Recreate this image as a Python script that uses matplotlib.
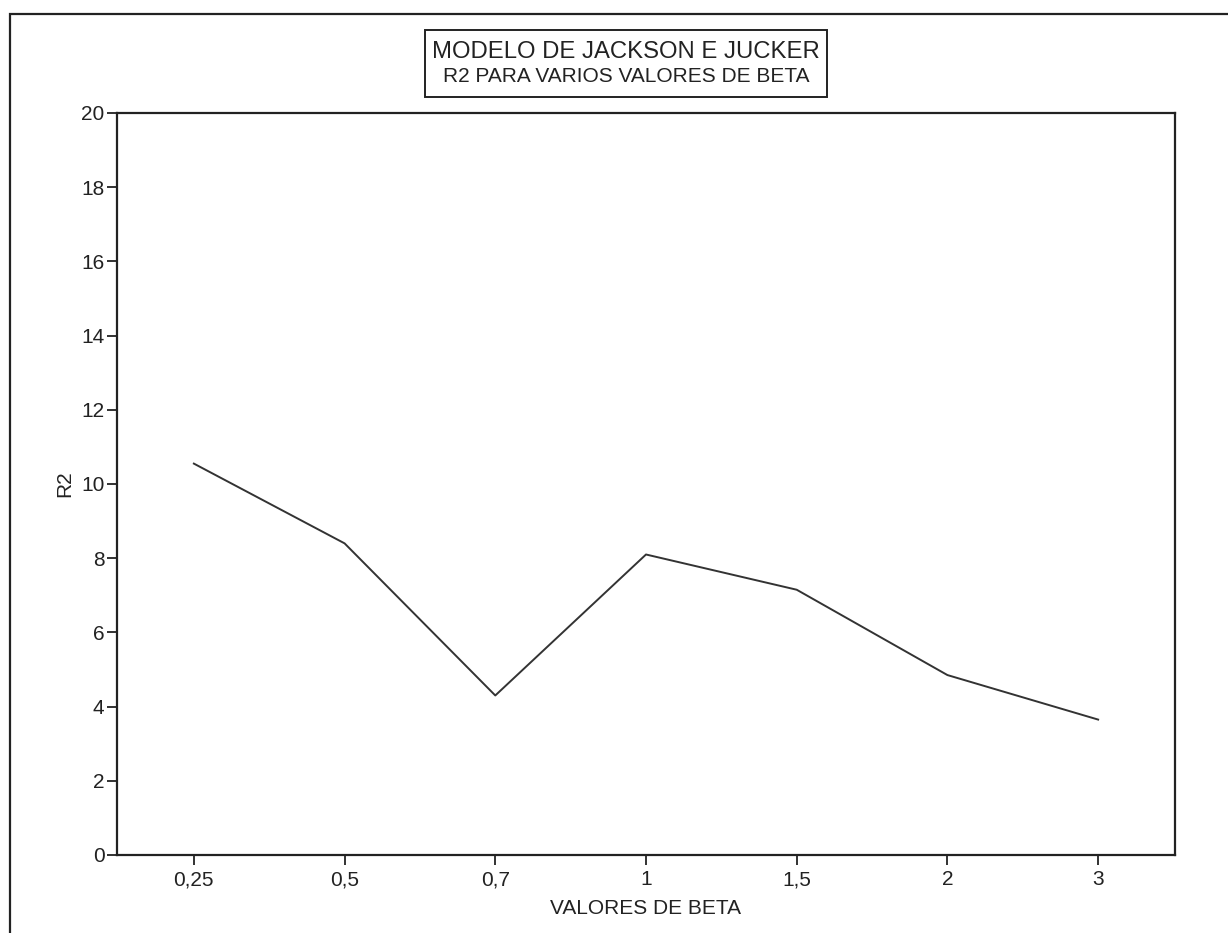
import matplotlib
matplotlib.use("Agg")
import matplotlib.pyplot as plt
from matplotlib.patches import Rectangle

# Data
beta_labels = ["0,25", "0,5", "0,7", "1", "1,5", "2", "3"]
r2_values = [10.55, 8.4, 4.3, 8.1, 7.15, 4.85, 3.65]
y_ticks = [0, 2, 4, 6, 8, 10, 12, 14, 16, 18, 20]

plt.rcParams["font.family"] = ["Liberation Sans", "DejaVu Sans"]

fig = plt.figure(figsize=(12.28, 9.33), dpi=100)
fig.patch.set_facecolor("white")

# Outer page frame (runs off the right and bottom edges)
frame = Rectangle((10 / 1228, -0.2), 1.5, 1 - 14 / 933 + 0.2,
                  transform=fig.transFigure, fill=False,
                  edgecolor="#222222", linewidth=1.6, clip_on=False)
fig.add_artist(frame)

ax = fig.add_axes([117 / 1228, 1 - 855 / 933,
                   (1175 - 117) / 1228, (855 - 113) / 933])

x = list(range(len(beta_labels)))
ax.plot(x, r2_values, color="#333333", linewidth=1.4)

ax.set_xlim(-0.51, 6.51)
ax.set_ylim(0, 20)
ax.set_xticks(x)
ax.set_xticklabels(beta_labels)
ax.set_yticks(y_ticks)
ax.set_yticklabels([str(v) for v in y_ticks])

for s in ax.spines.values():
    s.set_linewidth(1.6)
    s.set_color("#222222")

ax.tick_params(axis="both", direction="out", length=7, width=1.3,
               color="#222222", labelsize=15, labelcolor="#222222", pad=2)
ax.tick_params(axis="x", pad=4)

ax.set_xlabel("VALORES DE BETA", fontsize=15, color="#222222")
ax.set_ylabel("R2", fontsize=15, color="#222222")
ax.xaxis.label.set_va("center")
ax.yaxis.label.set_va("center")
ax.xaxis.set_label_coords(0.5, (855 - 908) / 742)
ax.yaxis.set_label_coords((65 - 117) / 1058, 0.5)

# Title box
fig.add_artist(Rectangle((425 / 1228, 1 - 97 / 933), (827 - 425) / 1228,
                         (97 - 30) / 933, transform=fig.transFigure,
                         fill=False, edgecolor="#222222", linewidth=1.4))
fig.text(626 / 1228, 1 - 52 / 933, "MODELO DE JACKSON E JUCKER",
         ha="center", va="center", fontsize=17.2, color="#222222")
fig.text(626 / 1228, 1 - 77 / 933, "R2 PARA VARIOS VALORES DE BETA",
         ha="center", va="center", fontsize=15, color="#222222")

fig.savefig("out.png", dpi=100, facecolor="white")
